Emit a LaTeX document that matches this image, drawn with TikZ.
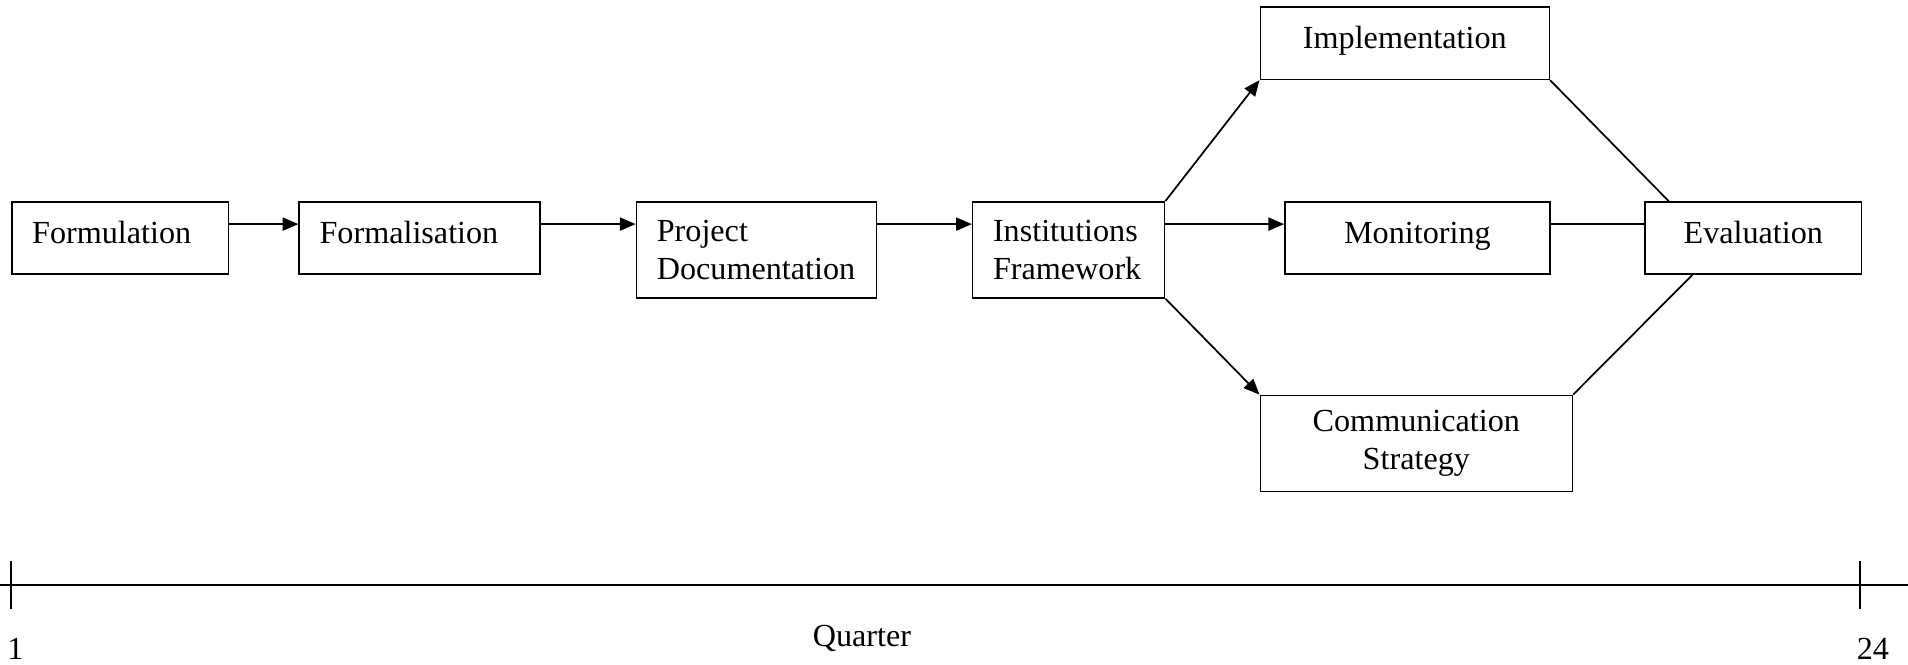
\documentclass[tikz,border=0pt]{standalone}
\usepackage{fontspec}
\setmainfont{Liberation Serif}
\usetikzlibrary{positioning,arrows.meta}

\begin{document}
\begin{tikzpicture}[>={Triangle[length=5.9pt,width=4.9pt]}, line width=0.65pt]
  \tikzstyle{stage}=[draw, rectangle, line width=0.6pt, inner xsep=7.6pt, inner ysep=0pt, font=\fontsize{12}{14.2}\selectfont];
  \tikzstyle{single}=[text height=8pt, text depth=4pt, minimum height=26.9pt];
  \tikzstyle{double}=[minimum height=35.8pt];
  \tikzstyle{scalelabel}=[inner sep=0pt, font=\fontsize{12}{14.2}\selectfont];
  \useasboundingbox (0,0) rectangle (711.7pt,-247.7pt);

  \node [stage, single, anchor=north west, text width=65.7pt, align=left] at (4.1pt,-75pt) (Formulation) {Formulation};
  \node [stage, single, right=25.7pt of Formulation.north east, anchor=north west, text width=74.7pt, align=left] (Formalisation) {Formalisation};
  \node [stage, double, right=35.3pt of Formalisation.north east, anchor=north west, text width=74.3pt, align=left] (Project) {Project\\Documentation};
  \node [stage, double, right=35.3pt of Project.north east, anchor=north west, text width=56.4pt, align=left] (Institutions) {Institutions\\Framework};
  \node [stage, single, above right=45.1pt and 35.1pt of Institutions.north east, anchor=south west, minimum width=107.8pt] (Implementation) {Implementation};
  \node [stage, single, right=44.3pt of Institutions.north east, anchor=north west, minimum width=98.8pt] (Monitoring) {Monitoring};
  \node [stage, double, below right=35.8pt and 35.1pt of Institutions.south east, anchor=north west, minimum width=116.4pt, align=center] (Communication) {Communication\\Strategy};
  \node [stage, single, right=35pt of Monitoring.north east, anchor=north west, minimum width=80.6pt] (Evaluation) {Evaluation};

  \path[->] ([yshift=-8.6pt]Formulation.north east) edge ([yshift=-8.6pt]Formalisation.north west);
  \path[->] ([yshift=-8.6pt]Formalisation.north east) edge ([yshift=-8.6pt]Project.north west);
  \path[->] ([yshift=-8.6pt]Project.north east) edge ([yshift=-8.6pt]Institutions.north west);

  \path[->] (Institutions.north east) edge (Implementation.south west)
            ([yshift=-8.6pt]Institutions.north east) edge ([yshift=-8.6pt]Monitoring.north west)
            (Institutions.south east) edge (Communication.north west);

  \path (Implementation.south east) edge ([xshift=9pt]Evaluation.north west)
        ([yshift=-8.6pt]Monitoring.north east) edge ([yshift=-8.6pt]Evaluation.north west)
        (Communication.north east) edge ([xshift=17.9pt]Evaluation.south west);

  \coordinate (Start) at (0,-218.2pt);
  \coordinate (End) at (711.7pt,-218.2pt);
  \draw[line width=0.9pt] (Start) -- (End);
  \draw[line width=0.55pt] (4.1pt,-209.3pt) -- (4.1pt,-227.2pt);
  \draw[line width=0.55pt] (693.8pt,-209.3pt) -- (693.8pt,-227.2pt);

  \node [scalelabel, anchor=base west] at (2.4pt,-246pt) (First) {1};
  \node [scalelabel, anchor=base] at (321.5pt,-241.3pt) (Quarter) {Quarter};
  \node [scalelabel, anchor=base west] at (692.3pt,-246pt) (Last) {24};
\end{tikzpicture}
\end{document}
